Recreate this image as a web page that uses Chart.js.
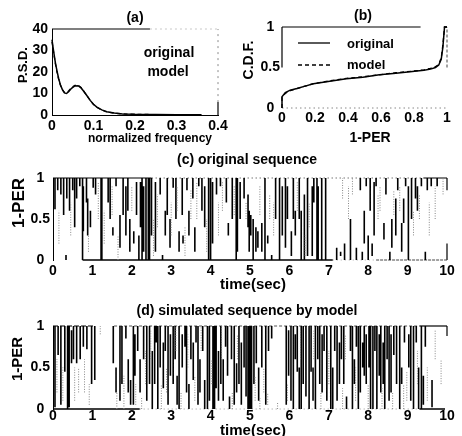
<!DOCTYPE html>
<html><head><meta charset="utf-8">
<script src="https://cdn.jsdelivr.net/npm/chart.js@4.4.1/dist/chart.umd.min.js"></script>
<style>
html,body{margin:0;padding:0;background:#fff;}
#wrap{position:relative;width:462px;height:436px;overflow:hidden;background:#fff;}
canvas{position:absolute;}
</style></head><body><div id="wrap">
<canvas id="cA" width="235" height="150" style="left:0px;top:0px;width:235px;height:150px"></canvas>
<canvas id="cB" width="227" height="150" style="left:235px;top:0px;width:227px;height:150px"></canvas>
<canvas id="cC" width="462" height="150" style="left:0px;top:145px;width:462px;height:150px"></canvas>
<canvas id="cD" width="462" height="146" style="left:0px;top:290px;width:462px;height:146px"></canvas>
</div>
<script>
// ---------- (a) power spectral density ----------
const aFreq  = [0,0.004,0.008,0.012,0.016,0.02,0.025,0.03,0.035,0.04,0.047,0.055,0.063,0.07,0.075,0.083,0.092,0.1,0.108,0.12,0.132,0.15,0.17,0.2,0.25,0.3,0.36];
const aOrig  = [35,29.5,24.5,20.5,17,14.2,11.8,10.3,10,10.8,12.4,13.5,13.6,12.6,11.4,9.3,6.8,5,3.7,2.4,1.5,0.9,0.5,0.3,0.2,0.15,0.1];
const aModel = [34,29,24,20,16.6,14,11.8,10.5,10.4,11.2,12.8,13.8,13.8,12.8,11.5,9.3,6.8,4.9,3.6,2.3,1.4,0.85,0.5,0.3,0.2,0.15,0.1];
const aXTicks = [0,0.1,0.2,0.3,0.4];   const aXLabels = ['0','0.1','0.2','0.3','0.4'];
const aYTicks = [0,10,20,30,40];       const aYLabels = ['0','10','20','30','40'];

// ---------- (b) cumulative distribution ----------
const bX     = [0,0,0.02,0.05,0.09,0.14,0.19,0.29,0.39,0.49,0.59,0.69,0.79,0.86,0.9,0.93,0.95,0.965,0.975,0.985,1];
const bOrig  = [0,0.14,0.19,0.22,0.24,0.27,0.3,0.33,0.36,0.38,0.41,0.43,0.45,0.465,0.48,0.5,0.53,0.6,0.75,1,1];
const bModel = [0,0.13,0.18,0.215,0.24,0.27,0.3,0.335,0.365,0.385,0.41,0.435,0.455,0.47,0.49,0.51,0.54,0.62,0.78,1,1];
const bXTicks = [0,0.2,0.4,0.6,0.8,1]; const bXLabels = ['0','0.2','0.4','0.6','0.8','1'];
const bYTicks = [0,0.5,1];             const bYLabels = ['0','0.5','1'];

// ---------- (c)/(d) 1-PER sequences: [time, low, high] of each vertical excursion ----------
const cStrokes = [[0.05,0.62,1],[0.12,0.85,1],[0.2,0.8,1],[0.27,0.55,1],[0.33,0,0.06],[0.35,0.75,1],[0.42,0.6,1],[0.5,0.85,1],[0.55,0.4,1],[0.6,0.75,1],[0.68,0.9,1],[0.75,0,1],[0.77,0.35,0.9],[0.85,0.7,1],[0.88,0.3,0.75],[0.95,0.4,0.6],
[1.02,0.88,1],[1.08,0.8,1],[1.22,0,1],[1.24,0,1],[1.4,0.7,1],[1.45,0.5,1],[1.52,0.3,0.4],[1.6,0.9,1],[1.7,0.15,0.55],[1.78,0.55,1],[1.85,0.3,0.9],[1.9,0.6,1],[1.95,0.1,0.5],
[2.05,0.2,0.35],[2.12,0.55,0.95],[2.18,0,0.3],[2.22,0.4,0.95],[2.26,0,1],[2.3,0.1,0.9],[2.36,0,1],[2.42,0,1],[2.45,0,1],[2.5,0.3,1],[2.6,0.1,0.95],[2.72,0.8,1],[2.78,0,0.06],[2.85,0.3,0.6],[2.9,0.55,1],[2.97,0.15,0.5],
[3.05,0.88,1],[3.12,0.5,1],[3.2,0.1,0.35],[3.28,0.55,1],[3.3,0.2,0.3],[3.4,0.85,1],[3.45,0.3,0.6],[3.55,0.75,1],[3.6,0.1,0.4],[3.7,0.9,1],[3.78,0.6,1],[3.85,0.4,0.9],[3.95,0,1],[4.0,0,1],[4.05,0.2,0.95],
[4.15,0.8,1],[4.25,0.9,1],[4.4,0.7,1],[4.45,0.3,0.45],[4.55,0.5,1],[4.65,0,1],[4.68,0.1,1],[4.75,0.5,0.95],[4.85,0.75,1],[4.95,0.4,0.8],[4.98,0.1,0.6],
[5.02,0.3,0.55],[5.08,0,0.5],[5.15,0.1,0.4],[5.2,0.15,0.35],[5.3,0.1,0.45],[5.38,0,1],[5.45,0.2,0.3],[5.55,0,0.06],[5.65,0.5,1],[5.75,0,1],[5.82,0.3,0.9],[5.9,0.15,1],[5.95,0.5,0.9],
[6.05,0.05,0.35],[6.1,0.5,1],[6.15,0.3,0.6],[6.25,0.5,1],[6.3,0,0.6],[6.38,0,0.8],[6.46,0.05,1],[6.58,0.05,0.9],[6.62,0.7,1],[6.7,0,1],[6.73,0,0.9],[6.82,0,1],[6.92,0,1],
[7.2,0,0.15],[7.3,0.05,0.1],[7.4,0,0.2],[7.55,0,0.5],[7.7,0,0.15],[7.8,0.85,1],[7.85,0,0.1],[7.9,0.2,0.6],[7.95,0.9,1],[8.0,0,0.3],
[8.05,0.6,1],[8.1,0.05,0.2],[8.15,0.3,0.95],[8.2,0.9,1],[8.4,0.25,0.45],[8.45,0.8,1],[8.55,0,0.1],[8.6,0.15,0.5],[8.7,0.3,0.75],[8.75,0.85,1],[8.85,0.1,0.45],[8.9,0.45,0.75],[8.95,0.9,1],
[9.02,0,0.9],[9.1,0.5,1],[9.2,0.75,1],[9.25,0.6,0.9],[9.35,0.9,1],[9.45,0,0.1],[9.5,0.85,1],[9.6,0.9,1],[9.75,0.9,1]];
const cFaint = [[0.15,0.2,0.6],[0.45,0.3,0.7],[0.9,0.1,0.5],[1.15,0.5,0.95],[1.3,0.2,0.6],[1.5,0.55,0.9],[1.65,0,0.3],[2.0,0.6,0.9],[2.55,0.05,0.5],[2.65,0.4,0.8],[3.0,0.3,0.7],[3.15,0.6,0.9],[3.35,0.05,0.4],[3.5,0.5,0.85],[3.65,0.5,0.95],[3.9,0.1,0.5],[4.2,0.3,0.7],[4.3,0.6,0.95],[4.6,0.55,0.9],[4.9,0.5,0.7],[5.25,0.55,0.9],[5.5,0.5,0.8],[5.6,0.3,0.7],[6.2,0.6,0.95],[6.4,0.05,0.3],[6.5,0.4,0.7],[7.35,0.75,1],[7.5,0.5,0.9],[7.6,0.8,1],[8.25,0.5,0.8],[8.3,0.6,0.9],[8.65,0.55,0.85],[8.8,0.6,0.9],[9.15,0.3,0.6],[9.3,0.5,0.8],[9.55,0.3,0.7],[9.7,0.5,0.9],[9.9,0.8,1]];

const dStrokes = [[0.05,0.02,1],[0.13,0.65,1],[0.2,0.05,1],[0.3,0.45,1],[0.37,0,1],[0.41,0.02,1],[0.47,0.55,0.95],[0.52,0.6,1],[0.6,0.55,1],[0.69,0.6,1],[0.77,0.75,1],[0.86,0.72,1],[0.98,0.3,1],[1.06,0.35,1],
[1.53,0.55,1],[1.6,0.2,0.5],[1.7,0.1,1],[1.75,0.3,1],[1.85,0.85,1],[1.91,0.2,0.6],[1.97,0.05,0.35],[2.04,0.05,1],[2.08,0.4,0.9],[2.15,0.7,1],[2.21,0.2,0.6],[2.3,0.6,1],[2.38,0.1,1],
[2.45,0.3,1],[2.52,0,0.7],[2.58,0.3,1],[2.62,0.8,1],[2.66,0,1],[2.72,0.5,1],[2.8,0.25,0.8],[2.85,0.7,1],[2.92,0.05,1],[2.98,0.4,0.9],
[3.05,0.3,1],[3.1,0.6,1],[3.15,0.05,0.4],[3.2,0,1],[3.28,0.5,0.9],[3.35,0.75,1],[3.39,0.2,1],[3.45,0,0.3],[3.5,0.6,1],[3.56,0.35,0.8],
[3.63,0.8,1],[3.68,0.05,1],[3.73,0.2,0.6],[3.8,0.7,1],[3.85,0,0.35],[3.92,0,1],[3.97,0.1,1],[4.06,0,1],[4.1,0,1],[4.14,0.25,1],[4.2,0.1,0.7],
[4.26,0.3,1],[4.32,0.1,0.6],[4.38,0.75,1],[4.43,0.4,1],[4.48,0,0.15],[4.53,0.6,1],[4.6,0.05,1],[4.66,0.2,0.55],[4.72,0.3,1],[4.78,0.05,0.8],[4.85,0.5,1],[4.9,0.15,1],
[4.95,0,1],[4.98,0,1],[5.01,0,1],[5.04,0,1],[5.1,0.3,1],[5.16,0.55,1],[5.22,0.1,0.5],[5.3,0.5,1],[5.4,0.05,1],[5.47,0.7,1],[5.55,0.85,1],
[5.92,0.05,1],[5.98,0.4,0.95],[6.04,0.1,1],[6.1,0,1],[6.15,0.6,0.9],[6.2,0.45,1],[6.25,0,0.5],[6.3,0,1],[6.35,0.3,1],[6.42,0.15,1],[6.5,0,1],
[6.55,0.45,1],[6.6,0.1,0.5],[6.66,0,1],[6.72,0.6,1],[6.77,0.3,1],[6.83,0.2,0.9],[6.88,0.7,1],[6.95,0.1,1],
[7.05,0,1],[7.1,0,0.5],[7.15,0.7,1],[7.21,0.1,1],[7.27,0.3,0.8],[7.32,0.6,1],[7.38,0.3,1],[7.45,0,0.15],
[7.55,0.7,1],[7.6,0,1],[7.65,0.3,0.6],[7.7,0.75,1],[7.75,0,1],[7.8,0.2,1],[7.86,0.5,0.8],[7.9,0.4,1],[7.95,0.3,0.9],
[8.02,0.5,1],[8.06,0,1],[8.12,0,1],[8.17,0.7,1],[8.22,0,1],[8.28,0.4,0.9],[8.32,0.2,1],[8.38,0.3,0.8],[8.42,0,1],[8.48,0.6,1],
[8.53,0.1,1],[8.58,0.2,0.9],[8.65,0.65,1],[8.72,0.3,1],[8.8,0,1],[8.85,0.3,0.5],[8.92,0.8,1],
[9.03,0.5,0.9],[9.08,0.1,1],[9.15,0,1],[9.22,0.8,1],[9.28,0,0.5],[9.35,0,1],[9.4,0.05,0.4],[9.45,0.75,1],[9.62,0.02,0.35]];
const dFaint = [[0.1,0.2,0.6],[0.25,0.1,0.5],[0.55,0.1,0.5],[0.65,0.2,0.5],[0.8,0.2,0.6],[0.92,0.05,0.3],[1.2,0.9,1],[1.62,0,0.2],[1.8,0,0.4],[2.1,0.05,0.3],[2.25,0,0.15],[2.35,0.3,0.7],[2.48,0.6,0.95],[2.75,0,0.3],[2.88,0.2,0.5],[3.12,0.7,1],[3.25,0,0.2],[3.42,0.5,0.9],[3.6,0.1,0.4],[3.76,0.7,1],[4.03,0.3,0.6],[4.28,0.6,1],[4.55,0,0.2],[4.68,0.6,0.9],[5.13,0.1,0.4],[5.25,0,0.15],[5.35,0.2,0.5],[5.45,0.05,0.2],[5.7,0,0.08],[5.95,0.1,0.3],[6.08,0.5,0.9],[6.28,0.6,0.95],[6.62,0.6,0.95],[6.8,0,0.2],[7.0,0.3,0.7],[7.35,0,0.25],[7.42,0.6,0.9],[7.68,0.1,0.5],[8.0,0,0.3],[8.35,0,0.25],[8.62,0,0.2],[8.9,0,0.3],[8.98,0.1,0.45],[9.25,0.3,0.7],[9.5,0.1,0.5],[9.7,0.6,0.95],[9.85,0.3,0.6]];

const seqXTicks = [0,1,2,3,4,5,6,7,8,9,10];  const seqXLabels = ['0','1','2','3','4','5','6','7','8','9','10'];
const seqYTicks = [0,0.5,1];                 const seqYLabels = ['0','0.5','1'];

// ---------- helpers ----------
Chart.defaults.font.family = "'Liberation Sans', Arial, Helvetica, sans-serif";
Chart.defaults.color = '#000';
const FAM = "'Liberation Sans', Arial, Helvetica, sans-serif";
const TICKFONT = {size:14, weight:'bold', lineHeight:1};

const pts = (xs, ys) => xs.map((x,i)=>({x, y:ys[i]}));
function strokePts(list){ const o=[]; list.forEach(([t,lo,hi])=>o.push({x:t,y:lo},{x:t,y:hi},{x:t,y:null})); return o; }
function hRuns(runs, level){ const o=[]; runs.forEach(([a,b])=>o.push({x:a,y:level},{x:b,y:level},{x:b,y:null})); return o; }
function vRuns(runs, at){ const o=[]; runs.forEach(([a,b])=>o.push({x:at,y:a},{x:at,y:b},{x:at,y:null})); return o; }
function ds(data, color, width, dash){
  return {data, borderColor:color, backgroundColor:color, borderWidth:width, borderDash:dash||[], pointRadius:0, pointHoverRadius:0,
          tension:0, fill:false, clip:false, spanGaps:false, borderCapStyle:'butt', borderJoinStyle:'miter'};
}
function scales(c){
  return {
    x:{type:'linear', min:c.xmin, max:c.xmax,
       afterBuildTicks:s=>{ s.ticks = c.xticks.map(v=>({value:v})); },
       afterFit:s=>{ s.height = c.xh; },
       ticks:{autoSkip:false, maxRotation:0, minRotation:0, padding:c.xpad, font:TICKFONT, callback:(v,i)=>c.xlabels[i]},
       grid:{display:false, drawTicks:false},
       border:{display:c.xborder, color:'#000', width:1}},
    y:{type:'linear', min:c.ymin, max:c.ymax,
       afterBuildTicks:s=>{ s.ticks = c.yticks.map(v=>({value:v})); },
       afterFit:s=>{ s.width = c.yw; },
       ticks:{autoSkip:false, padding:c.ypad, crossAlign:c.ycross, font:TICKFONT, callback:(v,i)=>c.ylabels[i]},
       grid:{display:false, drawTicks:false},
       border:{display:c.yborder, color:'#000', width:1, dash:c.ydash||[]}}
  };
}
function textPlugin(items, ox, oy, lines){
  return {id:'txt', afterDraw(chart){
    const g = chart.ctx;
    items.forEach(it=>{
      g.save(); g.fillStyle='#000'; g.font = `bold ${it.size}px ${FAM}`;
      g.textAlign = it.align || 'center'; g.textBaseline = 'middle';
      g.translate(it.x-ox, it.y-oy); if (it.rot) g.rotate(it.rot);
      g.fillText(it.text, 0, 0); g.restore();
    });
    (lines||[]).forEach(l=>{
      g.save(); g.strokeStyle='#000'; g.lineWidth=1.3; g.setLineDash(l.dash||[]);
      g.beginPath(); g.moveTo(l.x1-ox, l.y-oy); g.lineTo(l.x2-ox, l.y-oy); g.stroke(); g.restore();
    });
  }};
}
function make(id, datasets, sc, padding, plugin){
  return new Chart(document.getElementById(id), {
    type:'line', data:{datasets},
    options:{responsive:false, devicePixelRatio:1, animation:false, events:[],
      layout:{padding}, scales:sc,
      plugins:{legend:{display:false}, tooltip:{enabled:false}, title:{display:false}}},
    plugins:[plugin]
  });
}
const UP = -Math.PI/2;

// ---------- chart (a) ----------
make('cA', [
  ds(pts(aFreq,aOrig), '#000', 1.5),
  ds(pts(aFreq,aModel), '#000', 1.3, [4,3]),
  ds(hRuns([[0,0.236]],40), '#000', 1.2),
  ds(hRuns([[0.236,0.4]],40), '#c8c8c8', 1, [2,3]),
  ds(vRuns([[6,40]],0.4), '#8a8a8a', 1, [2,4]),
  ds(vRuns([[0,6]],0.4), '#000', 1.2)
], scales({xmin:0,xmax:0.4,xticks:aXTicks,xlabels:aXLabels,xh:35,xpad:4,xborder:true,
           ymin:0,ymax:40,yticks:aYTicks,ylabels:aYLabels,yw:52,ypad:4,ycross:'near',yborder:true}),
  {left:0,top:29,right:17,bottom:0},
  textPlugin([
    {text:'(a)', x:135, y:18, size:14},
    {text:'P.S.D.', x:23, y:65, size:13, rot:UP},
    {text:'normalized frequency', x:150, y:139, size:12},
    {text:'original', x:169, y:53, size:14},
    {text:'model', x:168, y:72, size:14}
  ], 0, 0));

// ---------- chart (b) ----------
make('cB', [
  ds(pts(bX,bOrig), '#000', 1.5),
  ds(pts(bX,bModel), '#000', 1.3, [4,3]),
  ds(hRuns([[0,0.84]],1), '#000', 1.2),
  ds(vRuns([[0.5,1]],0), '#000', 1.2),
  ds(vRuns([[0.5,1]],1), '#444', 1, [3,2]),
  ds(hRuns([[0,1]],0), '#888', 1, [1.5,3])
], scales({xmin:0,xmax:1,xticks:bXTicks,xlabels:bXLabels,xh:42,xpad:3,xborder:false,
           ymin:0,ymax:1,yticks:bYTicks,ylabels:bYLabels,yw:47,ypad:2,ycross:'center',yborder:false}),
  {left:0,top:27,right:15,bottom:0},
  textPlugin([
    {text:'(b)', x:363, y:16, size:14},
    {text:'C.D.F.', x:249, y:60, size:14, rot:UP},
    {text:'1-PER', x:370, y:138, size:14},
    {text:'original', x:347, y:44, size:13, align:'left'},
    {text:'model', x:347, y:65, size:13, align:'left'}
  ], 235, 0, [
    {x1:298, x2:330, y:43},
    {x1:298, x2:330, y:65, dash:[4,3]}
  ]));

// ---------- chart (c) ----------
make('cC', [
  ds(strokePts(cFaint), '#888', 1, [1,1.5]),
  ds(strokePts(cStrokes), '#000', 1.6),
  ds(hRuns([[0,2.5],[9.4,10]],1), '#000', 1.2),
  ds(hRuns([[2.5,9.4]],1), '#777', 1, [1.5,2.5]),
  ds(hRuns([[0.75,7.1]],0), '#000', 1.3),
  ds(hRuns([[8.2,10]],0), '#444', 1, [3,1]),
  ds(hRuns([[7.1,8.2]],0), '#aaa', 1, [1,3]),
  ds(vRuns([[0.85,1],[0,0.2]],10), '#000', 1.2)
], scales({xmin:0,xmax:10,xticks:seqXTicks,xlabels:seqXLabels,xh:35,xpad:4,xborder:false,
           ymin:0,ymax:1,yticks:seqYTicks,ylabels:seqYLabels,yw:53,ypad:3,ycross:'center',yborder:true}),
  {left:0,top:33,right:15,bottom:0},
  textPlugin([
    {text:'(c) original sequence', x:247, y:160, size:14},
    {text:'1-PER', x:19, y:203, size:17, rot:UP},
    {text:'time(sec)', x:253, y:285, size:15}
  ], 0, 145));

// ---------- chart (d) ----------
make('cD', [
  ds(strokePts(dFaint), '#888', 1, [1,1.5]),
  ds(strokePts(dStrokes), '#000', 1.6),
  ds(hRuns([[0,1.05]],1), '#000', 1.2, [5,2]),
  ds(hRuns([[1.55,9.3]],1), '#555', 1, [3,2]),
  ds(hRuns([[9.3,10]],1), '#000', 1.2),
  ds(hRuns([[0,2.2],[9.3,9.95]],0), '#000', 1.3),
  ds(hRuns([[2.2,9.3]],0), '#999', 1, [1,3]),
  ds(vRuns([[0.88,1]],10), '#000', 1.2)
], scales({xmin:0,xmax:10,xticks:seqXTicks,xlabels:seqXLabels,xh:27,xpad:0,xborder:false,
           ymin:0,ymax:1,yticks:seqYTicks,ylabels:seqYLabels,yw:53,ypad:3,ycross:'center',yborder:true,ydash:[4,2]}),
  {left:0,top:36,right:15,bottom:0},
  textPlugin([
    {text:'(d) simulated sequence by model', x:247, y:311, size:14},
    {text:'1-PER', x:18, y:359, size:15, rot:UP},
    {text:'time(sec)', x:253, y:431, size:15}
  ], 0, 290));
</script>
</body></html>
